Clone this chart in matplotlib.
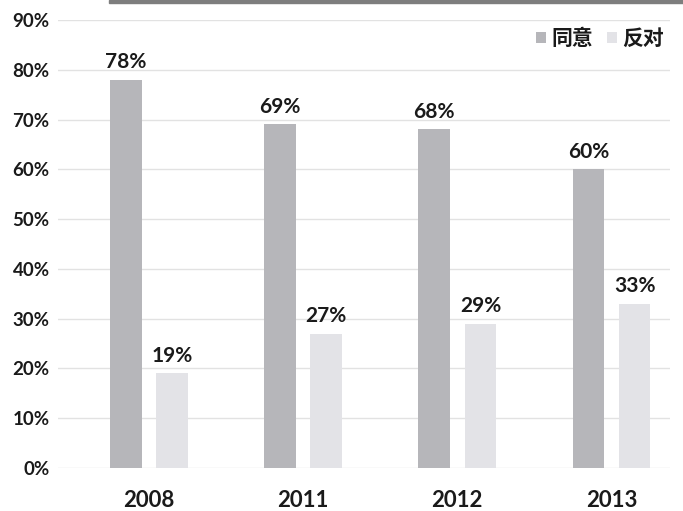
import matplotlib.pyplot as plt
import matplotlib.patches as patches
import numpy as np

years = ['2008', '2011', '2012', '2013']
agree = [78, 69, 68, 60]
oppose = [19, 27, 29, 33]
y_ticks = [0, 10, 20, 30, 40, 50, 60, 70, 80, 90]
series_names = ['同意', '反对']

num_font = ['Lato', 'DejaVu Sans']
cjk_font = ['Noto Sans CJK SC', 'DejaVu Sans']

fig = plt.figure(figsize=(6.83, 5.11), dpi=100)
ax = fig.add_axes([0.085, 0.084, 0.896, 0.877])

# dark strip along the top edge
fig.patches.append(patches.Rectangle((0.16, 0.994), 0.84, 0.006,
                                     transform=fig.transFigure,
                                     color='#7e7e7e', zorder=0))

x = np.arange(len(years))
w = 0.205
off = 0.15
b1 = ax.bar(x - off, agree, w, color='#b6b6ba', label=series_names[0], zorder=2)
b2 = ax.bar(x + off, oppose, w, color='#e3e3e7', label=series_names[1], zorder=2)

for bars, vals in ((b1, agree), (b2, oppose)):
    for rect, v in zip(bars, vals):
        ax.text(rect.get_x() + rect.get_width() / 2, v + 1.5, f'{v}%',
                ha='center', va='bottom', fontsize=15, fontweight='bold',
                family=num_font, color='#1a1a1a')

ax.set_ylim(0, 90)
ax.set_xlim(-0.59, 3.38)
ax.set_yticks(y_ticks)
ax.set_yticklabels([f'{t}%' for t in y_ticks], fontsize=13.5, fontweight='bold',
                   family=num_font, color='#1a1a1a')
ax.set_xticks(x)
ax.set_xticklabels(years, fontsize=16, fontweight='bold', family=num_font,
                   color='#1a1a1a')
ax.tick_params(axis='both', length=0)
ax.tick_params(axis='x', pad=16)
ax.tick_params(axis='y', pad=6)
ax.yaxis.grid(True, color='#e2e2e2', linewidth=1.0, zorder=0)
ax.set_axisbelow(True)
for s in ax.spines.values():
    s.set_visible(False)

leg = ax.legend(loc='upper right', bbox_to_anchor=(1.01, 1.01), ncol=2,
                frameon=False,
                prop={'family': cjk_font, 'size': 15, 'weight': 'bold'},
                handlelength=0.45, handleheight=0.45, handletextpad=0.25,
                columnspacing=0.7, borderaxespad=0.2)
for t in leg.get_texts():
    t.set_color('#1a1a1a')

fig.savefig('out.png', dpi=100, facecolor='white')
